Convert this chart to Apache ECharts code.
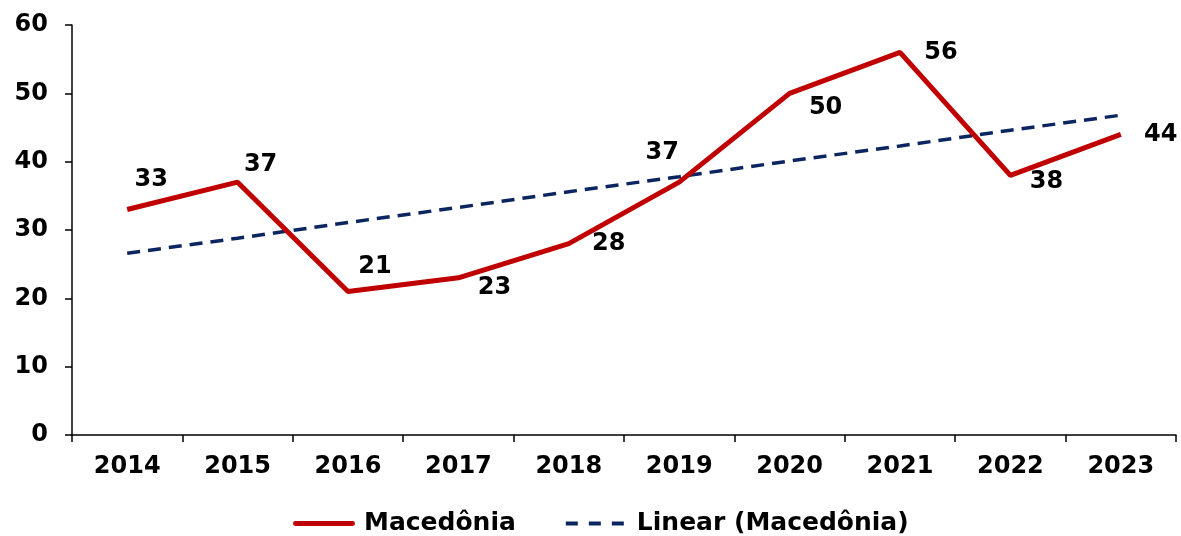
<!DOCTYPE html>
<html>
<head>
<meta charset="utf-8">
<script src="https://cdn.jsdelivr.net/npm/echarts@6/dist/echarts.min.js"></script>
<style>
  html, body { margin: 0; padding: 0; background: #fff; }
  #chart { width: 1181px; height: 536px; }
</style>
</head>
<body>
<div id="chart"></div>
<script>
var years = ['2014', '2015', '2016', '2017', '2018', '2019', '2020', '2021', '2022', '2023'];
var macedonia = [33, 37, 21, 23, 28, 37, 50, 56, 38, 44];
// trend line
var trend = [26.6, 28.8, 31.1, 33.3, 35.6, 37.8, 40.1, 42.3, 44.6, 46.8];
// label offsets (px) per point
var labelOffsets = [[24, -29], [23, -17], [27, -24], [36, 10], [40, 1], [-17, -29], [36, 15], [41, 1], [36, 7], [40, 1]];

var font = 'DejaVu Sans, Verdana, sans-serif';
var myChart = echarts.init(document.getElementById('chart'));

myChart.setOption({
    animation: false,
    grid: { left: 72, right: 5, top: 25, bottom: 101 },
    legend: {
        bottom: -5,
        left: 288,
        itemWidth: 62,
        itemHeight: 5,
        itemGap: 50,
        textStyle: { fontFamily: font, fontWeight: 'bold', fontSize: 25, color: '#000', padding: [0, 0, 0, 4] },
        data: [
            { name: 'Macedônia', icon: 'path://M2,0h58a2.5,2.5 0 0 1 0,5h-58a2.5,2.5 0 0 1 0,-5z' },
            { name: 'Linear (Macedônia)', icon: 'path://M0,0.5h12v4h-12z M23,0.5h12v4h-12z M46,0.5h12v4h-12z M62,0h0.01v5h-0.01z' }
        ]
    },
    xAxis: {
        type: 'category',
        data: years,
        boundaryGap: true,
        axisLine: { lineStyle: { color: '#000', width: 1.5 } },
        axisTick: { show: true, length: 7, lineStyle: { color: '#000', width: 1.5 } },
        axisLabel: { fontFamily: font, fontWeight: 'bold', fontSize: 24, color: '#000', margin: 20 }
    },
    yAxis: {
        type: 'value',
        min: 0,
        max: 60,
        interval: 10,
        splitLine: { show: false },
        axisLine: { show: true, lineStyle: { color: '#000', width: 1.5 } },
        axisTick: { show: true, length: 7, lineStyle: { color: '#000', width: 1.5 } },
        axisLabel: { fontFamily: font, fontWeight: 'bold', fontSize: 24, color: '#000', margin: 24 }
    },
    series: [
        {
            name: 'Macedônia',
            type: 'line',
            data: macedonia,
            symbol: 'none',
            lineStyle: { color: '#c00000', width: 5 },
            itemStyle: { color: '#c00000' },
            z: 3
        },
        {
            name: 'Linear (Macedônia)',
            type: 'line',
            data: trend,
            symbol: 'none',
            lineStyle: { color: '#0b2560', width: 3.5, type: [13, 8] },
            itemStyle: { color: '#0b2560' },
            z: 2
        },
        {
            name: 'labels',
            type: 'scatter',
            data: macedonia.map(function (v, i) {
                return { value: v, label: { offset: labelOffsets[i] } };
            }),
            symbolSize: 1,
            itemStyle: { color: 'rgba(0,0,0,0)', opacity: 1 },
            silent: true,
            label: {
                show: true,
                position: 'top',
                distance: 0,
                align: 'center',
                verticalAlign: 'middle',
                fontFamily: font,
                fontWeight: 'bold',
                fontSize: 24,
                color: '#000',
                opacity: 1,
                formatter: '{c}'
            },
            z: 4
        }
    ]
});
</script>
</body>
</html>
